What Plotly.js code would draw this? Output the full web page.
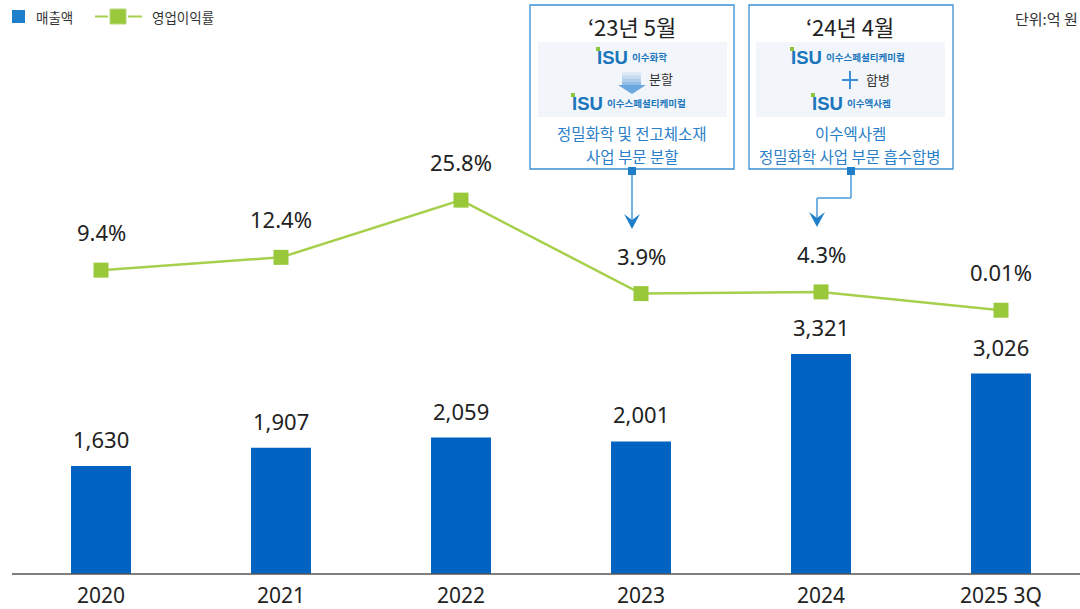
<!DOCTYPE html>
<html>
<head>
<meta charset="utf-8">
<script src="https://cdn.plot.ly/plotly-3.0.1.min.js"></script>
<style>html,body{margin:0;padding:0;background:#fff;}#chart{width:1080px;height:609px;}</style>
</head>
<body>
<div id="chart"></div>
<script>
// ---- data ----
const categories = ['2020', '2021', '2022', '2023', '2024', '2025 3Q'];
const sales = [1630, 1907, 2059, 2001, 3321, 3026];
const salesLabels = ['1,630', '1,907', '2,059', '2,001', '3,321', '3,026'];
const opMargin = [9.4, 12.4, 25.8, 3.9, 4.3, 0.01];
const opMarginLabels = ['9.4%', '12.4%', '25.8%', '3.9%', '4.3%', '0.01%'];
const seriesNames = ['매출액', '영업이익률'];
const unitText = '단위:억 원';

// ---- layout helpers (pixel -> paper) ----
const W = 1080, PH = 574;
const px = x => x / W;
const py = y => (PH - y) / PH;

const NUMF = 'Noto Sans, Noto Sans CJK KR, sans-serif';
const KRF = 'Noto Sans CJK KR, Noto Sans, sans-serif';
const BLUE_BAR = '#0062c1';
const BOX_BLUE = '#3a90d5';
const TXT_BLUE = '#2a80c8';
const LOGO_BLUE = '#1b75bc';
const GREEN_M = '#99c93b';
const GREEN_L = '#a6d04c';

const shapes = [];
const annotations = [];

function rect(x0, y0, x1, y1, fill, line, lw) {
  shapes.push({type: 'rect', xref: 'paper', yref: 'paper', x0: px(x0), x1: px(x1), y0: py(y1), y1: py(y0),
    fillcolor: fill || 'rgba(0,0,0,0)', line: {color: line || 'rgba(0,0,0,0)', width: lw || 0}, layer: 'above'});
}
function line(x0, y0, x1, y1, color, w) {
  shapes.push({type: 'line', xref: 'paper', yref: 'paper', x0: px(x0), x1: px(x1), y0: py(y0), y1: py(y1),
    line: {color: color, width: w}, layer: 'above'});
}
function pathPx(pts, fill) {
  const d = pts.map((p, i) => (i ? 'L' : 'M') + px(p[0]) + ',' + py(p[1])).join(' ') + ' Z';
  shapes.push({type: 'path', xref: 'paper', yref: 'paper', path: d, fillcolor: fill, line: {width: 0}, layer: 'above'});
}
function text(x, y, t, size, color, anchor, family, bold) {
  annotations.push({xref: 'paper', yref: 'paper', x: px(x), y: py(y), text: bold ? '<b>' + t + '</b>' : t,
    showarrow: false, xanchor: anchor || 'center', yanchor: 'middle',
    font: {size: size, color: color, family: family || KRF}, borderpad: 0});
}
function logo(x, y, name) {
  // x = left of "ISU", y = vertical centre
  rect(x - 1, y - 10, x + 3, y - 6, '#8cc63f');
  text(x - 1, y + 1, 'ISU', 18.5, LOGO_BLUE, 'left', 'Liberation Sans, Arial, sans-serif', true);
  text(x + 34, y, name, 9.5, LOGO_BLUE, 'left', KRF, true);
}
function arrowHead(cx, tipY) {
  pathPx([[cx, tipY], [cx - 8, tipY - 15], [cx, tipY - 9], [cx + 8, tipY - 15]], '#1f80c9');
}

// ---- legend ----
rect(12, 10, 25, 23, '#1e80cc');
text(35, 16.5, seriesNames[0], 13.5, '#333', 'left');
line(95, 16.5, 108, 16.5, GREEN_L, 2);
rect(110, 9, 126, 24, GREEN_M, '#b5d97a', 1);
line(128, 16.5, 142, 16.5, GREEN_L, 2);
text(151, 16.5, seriesNames[1], 13.5, '#333', 'left');

// ---- unit ----
text(1079, 19, unitText, 15, '#333', 'right');

// ---- x axis baseline ----
line(12, 574, 1080, 574, '#555', 1.3);

// ---- callout box 1 ----
rect(530, 5, 734, 169, '#ffffff', BOX_BLUE, 1.3);
rect(538, 42, 727, 117, '#f2f6fa');
text(632, 26, '‘23년 5월', 22, '#222', 'center', KRF);
logo(597, 57, '이수화학');
// gradient block arrow
const gcols = ['#dde9f5', '#c6dcf1', '#accdec', '#93bee7'];
for (let i = 0; i < 4; i++) rect(622, 72 + i * 3.25, 641, 72 + (i + 1) * 3.25, gcols[i]);
pathPx([[618, 85], [646, 85], [632, 94]], '#6aa7df');
text(661, 79, '분할', 13, '#333', 'center');
logo(572, 103, '이수스페셜티케미컬');
text(632, 133, '정밀화학 및 전고체소재', 15.5, TXT_BLUE, 'center');
text(632, 156, '사업 부문 분할', 15.5, TXT_BLUE, 'center');
rect(628, 167, 636, 175, '#1f80c9');
line(632, 175, 632, 220, '#4a98d8', 1.5);
arrowHead(632, 229);

// ---- callout box 2 ----
rect(749, 5, 953, 169, '#ffffff', BOX_BLUE, 1.3);
rect(756, 42, 945, 117, '#f2f6fa');
text(850, 26, '‘24년 4월', 22, '#222', 'center', KRF);
logo(791, 57, '이수스페셜티케미컬');
line(842, 80, 858, 80, '#3a8fd6', 2);
line(850, 71, 850, 89, '#3a8fd6', 2);
text(878, 80, '합병', 13, '#333', 'center');
logo(812, 103, '이수엑사켐');
text(850, 133, '이수엑사켐', 15.5, TXT_BLUE, 'center');
text(850, 156, '정밀화학 사업 부문 흡수합병', 15.5, TXT_BLUE, 'center');
rect(847, 167, 855, 175, '#1f80c9');
line(851, 175, 851, 198, '#4a98d8', 1.5);
line(851, 198, 817, 198, '#4a98d8', 1.5);
line(817, 198, 817, 218, '#4a98d8', 1.5);
arrowHead(817, 227);

// ---- data labels (x by category index so numeric-looking names are not misread) ----
categories.forEach((c, i) => {
  annotations.push({xref: 'x', yref: 'y', x: i, y: sales[i], text: salesLabels[i], showarrow: false,
    yanchor: 'bottom', yshift: 10, font: {size: 22, color: '#222', family: NUMF}});
  annotations.push({xref: 'x', yref: 'y2', x: i, y: opMargin[i], text: opMarginLabels[i], showarrow: false,
    yanchor: 'bottom', yshift: 21, font: {size: 22, color: '#222', family: NUMF}});
  annotations.push({xref: 'x', yref: 'paper', x: i, y: 0, text: c, showarrow: false, borderpad: 0,
    yanchor: 'middle', yshift: -21, font: {size: 21, color: '#222', family: NUMF}});
});

const traces = [
  {type: 'bar', x: categories, y: sales, name: seriesNames[0], marker: {color: BLUE_BAR}, width: 0.333,
   hoverinfo: 'skip'},
  {type: 'scatter', mode: 'lines+markers', x: categories, y: opMargin, name: seriesNames[1], yaxis: 'y2',
   line: {color: GREEN_L, width: 2.5}, marker: {symbol: 'square', size: 15, color: GREEN_M},
   hoverinfo: 'skip'}
];

const layout = {
  width: 1080, height: 609,
  margin: {l: 0, r: 0, t: 0, b: 35, pad: 0},
  paper_bgcolor: '#fff', plot_bgcolor: '#fff',
  showlegend: false,
  xaxis: {type: 'category', categoryorder: 'array', categoryarray: categories,
    range: [-101 / 180, -101 / 180 + 6], showgrid: false, zeroline: false,
    showline: false, showticklabels: false, ticks: ''},
  yaxis: {range: [0, 8663], visible: false, showgrid: false, zeroline: false},
  yaxis2: {range: [-61.8, 72.7], overlaying: 'y', visible: false, showgrid: false, zeroline: false},
  shapes: shapes,
  annotations: annotations
};

Plotly.newPlot('chart', traces, layout, {staticPlot: true, displayModeBar: false});
</script>
</body>
</html>
